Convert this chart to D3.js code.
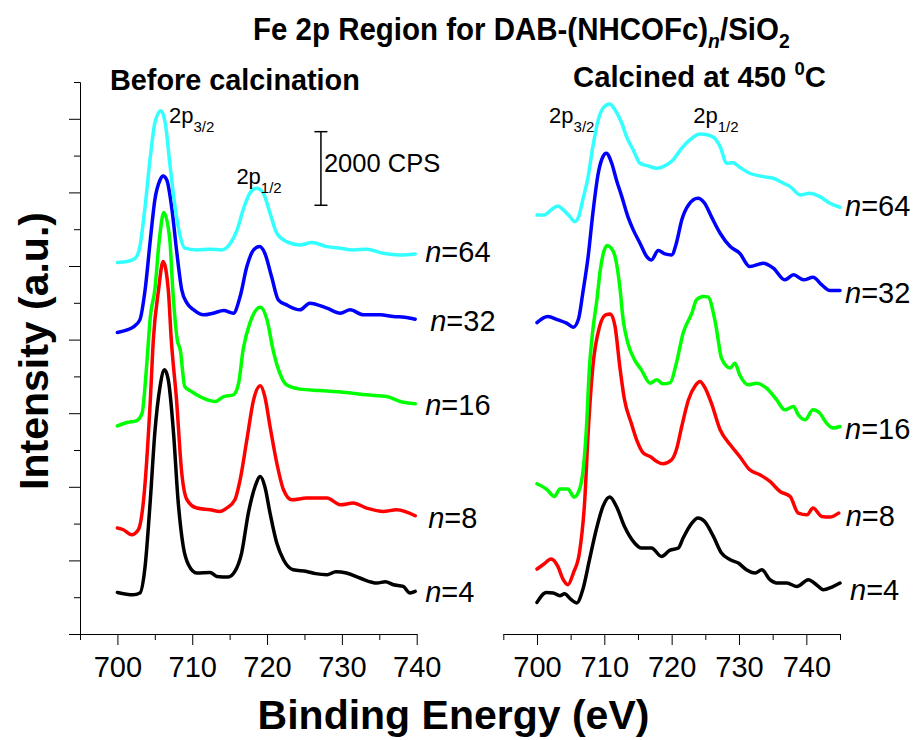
<!DOCTYPE html>
<html>
<head>
<meta charset="utf-8">
<script src="https://cdn.jsdelivr.net/npm/d3@7"></script>
<style>
  body { margin: 0; background: #fff; }
  svg { display: block; }
</style>
</head>
<body>
<svg id="chart" width="917" height="740"></svg>
<script>
// Fe 2p XPS spectra, [binding energy (eV), stacked intensity (CPS)]
const beforeN4 = [[700.0,1130],[702.1,1067],[703.0,1114],[703.7,1836],[704.4,3648],[705.0,5467],[705.7,6725],[706.3,7178],[706.8,6907],[707.5,5467],[708.1,3648],[708.8,2379],[709.5,1882],[710.6,1657],[712.4,1673],[713.3,1564],[714.8,1548],[715.7,1700],[716.6,2200],[717.5,3286],[718.4,4009],[719.1,4280],[719.7,4009],[720.4,3286],[721.3,2472],[722.2,2018],[723.5,1746],[725.3,1700],[726.5,1640],[728.0,1611],[729.2,1690],[730.6,1657],[732.4,1521],[734.7,1385],[735.8,1420],[736.9,1339],[738.2,1293],[739.1,1114],[739.8,1157]];
const beforeN8 = [[700.0,2879],[700.8,2833],[701.9,2697],[702.8,2833],[703.5,3648],[704.4,6364],[704.8,7993],[705.5,9351],[706.1,10120],[706.8,9351],[707.2,7993],[707.9,6364],[708.6,4373],[709.3,3648],[710.6,3422],[712.4,3376],[713.7,3330],[714.6,3422],[715.7,3648],[716.4,4191],[717.3,5277],[718.2,6364],[719.1,6744],[719.7,6453],[720.4,5638],[721.3,4644],[722.2,3919],[723.3,3648],[725.3,3694],[728.0,3694],[729.8,3512],[731.5,3558],[733.3,3422],[735.5,3330],[737.3,3376],[739.8,3213]];
const beforeN16 = [[700.0,5657],[701.3,5747],[702.6,5801],[703.3,6002],[703.9,7268],[704.4,8626],[705.0,9351],[705.6,10709],[706.2,11451],[707.0,10709],[707.4,9351],[708.0,7993],[708.4,7722],[709.0,6725],[709.9,6589],[711.0,6453],[713.1,6317],[714.2,6453],[715.5,6499],[716.2,6817],[716.8,7722],[717.7,8447],[719.1,8881],[720.0,8536],[720.8,7722],[721.7,7089],[722.6,6771],[724.4,6654],[727.1,6616],[730.6,6562],[733.3,6499],[736.0,6453],[737.8,6317],[739.8,6255]];
const beforeN32 = [[700.0,8191],[701.3,8265],[702.1,8338],[703.0,8536],[703.7,9351],[704.4,10709],[705.0,11796],[705.7,12339],[706.1,12447],[706.6,12339],[707.3,11524],[707.9,10438],[708.6,9351],[709.3,8990],[710.2,8808],[711.5,8672],[712.8,8718],[714.2,8789],[715.5,8718],[716.4,9169],[717.3,9984],[718.2,10438],[719.0,10527],[719.7,10348],[720.6,9712],[721.5,9080],[722.6,8944],[724.4,8808],[725.7,8990],[728.0,8854],[729.8,8718],[731.1,8808],[732.9,8672],[735.1,8672],[736.9,8626],[738.4,8610],[739.8,8555]];
const beforeN64 = [[700.0,10093],[701.3,10120],[702.4,10212],[703.0,10527],[703.7,11614],[704.4,12972],[705.0,13879],[705.8,14221],[706.4,13879],[707.0,12792],[707.7,11614],[708.4,10799],[709.0,10484],[710.6,10438],[712.4,10457],[713.9,10438],[715.1,10620],[716.0,10981],[716.8,11524],[717.7,11978],[718.6,12113],[719.5,11978],[720.4,11434],[721.3,10891],[722.6,10663],[724.4,10573],[726.0,10636],[728.0,10527],[729.8,10484],[731.5,10438],[733.3,10457],[735.5,10348],[737.8,10302],[739.8,10329]];

const calcN4 = [[700.0,858],[701.4,1130],[702.4,1114],[703.4,1040],[704.1,1095],[705.1,932],[705.9,842],[706.8,1203],[707.8,2018],[708.8,2833],[709.8,3466],[710.8,3721],[711.8,3466],[713.0,2922],[714.5,2472],[715.5,2336],[717.0,2336],[718.5,2108],[719.7,2271],[721.0,2336],[721.7,2607],[723.0,3015],[723.9,3151],[724.9,3058],[726.2,2651],[727.4,2200],[728.7,2018],[729.9,1928],[731.1,1746],[732.4,1657],[733.4,1746],[734.6,1475],[735.6,1385],[737.1,1385],[738.6,1293],[740.3,1475],[741.5,1339],[742.5,1203],[743.8,1276],[745.0,1385]];
const calcN8 = [[700.0,1765],[700.9,1882],[702.1,2037],[703.1,1836],[703.9,1475],[704.6,1339],[705.4,1657],[706.3,2200],[707.1,3648],[707.6,5459],[708.3,7268],[709.3,8354],[710.2,8672],[710.9,8699],[711.6,8354],[712.3,7268],[713.0,6364],[714.0,5731],[714.8,5277],[715.8,4916],[716.8,4824],[717.8,4688],[718.7,4625],[720.0,4734],[720.7,5006],[721.5,5638],[722.5,6364],[723.5,6744],[724.2,6861],[724.9,6709],[725.9,6274],[727.2,5549],[728.7,5141],[730.1,4824],[731.6,4462],[733.1,4327],[734.6,4145],[736.1,3873],[737.6,3737],[738.8,3286],[740.1,3240],[741.0,3422],[742.3,3194],[743.5,3178],[744.8,3286]];
const calcN16 = [[700.0,4082],[701.4,3938],[702.6,3737],[703.4,3938],[704.6,3938],[705.5,3721],[706.2,3873],[706.8,4373],[707.3,5459],[707.8,7268],[708.3,8265],[708.9,9080],[709.4,9894],[709.8,10302],[710.4,10554],[711.0,10492],[711.6,10256],[712.3,9441],[712.8,8536],[713.5,7904],[714.5,7450],[715.5,7178],[716.8,6817],[717.8,6907],[718.7,6798],[719.8,6833],[720.7,7360],[721.7,8175],[723.0,8718],[723.7,9080],[724.7,9169],[725.4,9161],[726.2,8718],[726.6,8354],[727.4,7496],[728.7,7225],[729.4,7360],[730.1,7043],[731.4,6771],[732.6,6817],[734.1,6681],[735.6,6364],[736.8,6092],[738.1,6182],[738.8,5956],[739.8,5820],[741.0,6092],[742.0,6002],[743.0,5731],[744.0,5595],[745.0,5638]];
const calcN32 = [[700.0,8463],[701.6,8626],[703.1,8536],[704.4,8447],[705.4,8338],[706.2,8583],[706.8,9262],[707.6,10256],[708.3,11434],[709.1,12521],[709.8,12972],[710.3,13064],[711.1,12792],[711.8,12339],[712.6,11885],[713.5,11342],[714.3,10981],[715.3,10620],[716.3,10256],[717.0,10166],[718.0,10419],[719.0,10329],[720.0,10302],[720.7,10620],[721.5,11252],[722.5,11660],[723.9,11842],[724.9,11706],[725.9,11342],[727.2,10891],[728.7,10527],[730.1,10348],[731.6,9984],[733.6,10076],[735.1,9941],[736.8,9623],[738.1,9759],[739.6,9623],[741.0,9696],[742.3,9487],[743.5,9332],[745.0,9332]];
const calcN64 = [[700.0,11388],[701.1,11388],[702.1,11524],[703.1,11633],[703.9,11524],[704.9,11342],[705.6,11206],[706.2,11342],[706.8,11796],[707.6,12428],[708.3,13243],[709.1,13968],[709.8,14286],[710.8,14403],[711.6,14240],[712.6,13879],[713.3,13515],[714.3,13154],[715.3,12792],[716.5,12719],[717.8,12657],[719.2,12746],[720.2,12882],[721.5,13200],[722.7,13425],[724.2,13588],[725.4,13561],[726.4,13471],[727.2,13243],[728.2,12792],[729.1,12809],[730.1,12684],[731.6,12521],[733.6,12428],[735.1,12385],[736.6,12249],[737.6,12157],[739.1,11931],[740.5,11978],[742.0,11885],[743.5,11706],[745.0,11597]];

const seriesNames = ["4", "8", "16", "32", "64"];
const seriesColors = ["#000000", "#ff0000", "#00ff00", "#0000ff", "#33ffff"];
const tickLabels = [700, 710, 720, 730, 740];
const minorTicksLeft = [695, 705, 715, 725, 735];
const minorTicksRight = [695, 705, 715, 725, 735, 745];
const scaleBarCPS = 2000;
const scaleBarBase = 11650;

const beforeSeries = [beforeN4, beforeN8, beforeN16, beforeN32, beforeN64];
const calcinedSeries = [calcN4, calcN8, calcN16, calcN32, calcN64];

const svg = d3.select("#chart");
svg.append("rect").attr("width", 917).attr("height", 740).attr("fill", "#fff");

const FONT = "'Liberation Sans', Arial, sans-serif";
const NARROW = "'Liberation Sans Narrow', 'Arial Narrow', 'Liberation Sans', Arial, sans-serif";

const y = d3.scaleLinear().domain([0, 15000]).range([634, 82]);
const xLeft = d3.scaleLinear().domain([695, 740]).range([80, 416.7]);
const xRight = d3.scaleLinear().domain([695, 745]).range([503.3, 840]);

// squeeze a text element horizontally so it spans a given width from x0
function fitWidth(sel, x0, width) {
  const w = sel.node().getBBox().width;
  const k = width / w;
  sel.attr("transform", `translate(${x0},0) scale(${k},1) translate(${-x0},0)`);
}

function styleAxis(g) {
  g.selectAll("path.domain").attr("stroke", "#000").attr("stroke-width", 1);
  g.selectAll(".tick line").attr("stroke", "#000").attr("stroke-width", 1);
  g.selectAll(".tick text").attr("fill", "#000")
    .style("font-family", FONT).style("font-size", "29px");
}

function drawXAxis(x, minorTicks) {
  const major = svg.append("g").attr("transform", `translate(0,${y(0)})`)
    .call(d3.axisBottom(x).tickValues(tickLabels).tickSize(11).tickSizeOuter(0)
      .tickPadding(11).tickFormat(d3.format("d")));
  styleAxis(major);
  const minor = svg.append("g").attr("transform", `translate(0,${y(0)})`)
    .call(d3.axisBottom(x).tickValues(minorTicks).tickSize(6).tickSizeOuter(0).tickFormat(""));
  styleAxis(minor);
}

drawXAxis(xLeft, minorTicksLeft);
drawXAxis(xRight, minorTicksRight);

// intensity axis: tick marks only
const yMajor = d3.range(0, 15000, 2000);
const yMinor = d3.range(1000, 15001, 2000);
styleAxis(svg.append("g").attr("transform", `translate(${xLeft(695)},0)`)
  .call(d3.axisLeft(y).tickValues(yMajor).tickSize(11).tickSizeOuter(0).tickFormat("")));
styleAxis(svg.append("g").attr("transform", `translate(${xLeft(695)},0)`)
  .call(d3.axisLeft(y).tickValues(yMinor).tickSize(6).tickSizeOuter(0).tickFormat("")));

// spectra
function drawPanel(series, x, labelDx, labelDy) {
  const line = d3.line().x(d => x(d[0])).y(d => y(d[1])).curve(d3.curveMonotoneX);
  series.forEach((data, i) => {
    svg.append("path").datum(data)
      .attr("d", line)
      .attr("fill", "none")
      .attr("stroke", seriesColors[i])
      .attr("stroke-width", 3.5)
      .attr("stroke-linejoin", "round")
      .attr("stroke-linecap", "round");
    const last = data[data.length - 1];
    const t = svg.append("text")
      .attr("x", x(last[0]) + labelDx[i])
      .attr("y", y(last[1]) + labelDy[i])
      .style("font-family", FONT).style("font-size", "29px").attr("fill", "#000");
    t.append("tspan").style("font-style", "italic").text("n");
    t.append("tspan").text("=" + seriesNames[i]);
  });
}

drawPanel(beforeSeries, xLeft, [10, 13, 10, 15, 10], [11, 12, 11, 12, 8]);
drawPanel(calcinedSeries, xRight, [10, 7, 5, 5, 5], [17, 13, 12, 12, 9]);

// peak labels
function peakLabel(px, py, sub) {
  const t = svg.append("text").attr("x", px).attr("y", py)
    .style("font-family", FONT).style("font-size", "22px").attr("fill", "#000");
  t.append("tspan").text("2p");
  t.append("tspan").attr("dy", 9).style("font-size", "15px").text(sub);
}
peakLabel(xLeft(706.9), y(13880), "3/2");
peakLabel(xLeft(715.9), y(12230), "1/2");
peakLabel(xRight(701.8), y(13880), "3/2");
peakLabel(xRight(723.2), y(13880), "1/2");

// 2000 CPS scale bar
const barX = xLeft(727.2);
const bar = svg.append("g").attr("stroke", "#000").attr("stroke-width", 1.5);
bar.append("line").attr("x1", barX).attr("x2", barX)
  .attr("y1", y(scaleBarBase)).attr("y2", y(scaleBarBase + scaleBarCPS));
[scaleBarBase, scaleBarBase + scaleBarCPS].forEach(v => {
  bar.append("line").attr("x1", barX - 6.5).attr("x2", barX + 6.5)
    .attr("y1", y(v)).attr("y2", y(v));
});
svg.append("text").attr("x", barX + 3).attr("y", 172)
  .style("font-family", FONT).style("font-size", "25.5px").attr("fill", "#000")
  .text(scaleBarCPS + " CPS");

// titles
const title = svg.append("text").attr("x", 253).attr("y", 40)
  .style("font-family", NARROW).style("font-weight", "bold").style("font-size", "32px");
title.append("tspan").text("Fe 2p Region for DAB-(NHCOFc)");
title.append("tspan").attr("dy", 8).style("font-style", "italic").style("font-size", "21px").text("n");
title.append("tspan").attr("dy", -8).text("/SiO");
title.append("tspan").attr("dy", 8).style("font-size", "21px").text("2");
fitWidth(title, 253, 537);

const sub1 = svg.append("text").attr("x", 110).attr("y", 90)
  .style("font-family", NARROW).style("font-weight", "bold").style("font-size", "30px")
  .text("Before calcination");
fitWidth(sub1, 110, 250);

const sub2 = svg.append("text").attr("x", 573).attr("y", 87)
  .style("font-family", NARROW).style("font-weight", "bold").style("font-size", "30px");
sub2.append("tspan").text("Calcined at 450 ");
sub2.append("tspan").attr("dy", -12).style("font-size", "19px").text("0");
sub2.append("tspan").attr("dy", 12).text("C");
fitWidth(sub2, 573, 253);

// axis titles
svg.append("text").attr("x", 453.5).attr("y", 729).attr("text-anchor", "middle")
  .style("font-family", FONT).style("font-weight", "bold").style("font-size", "41px")
  .text("Binding Energy (eV)");
svg.append("text").attr("transform", "translate(48,351) rotate(-90)").attr("text-anchor", "middle")
  .style("font-family", FONT).style("font-weight", "bold").style("font-size", "41px")
  .text("Intensity (a.u.)");
</script>
</body>
</html>
